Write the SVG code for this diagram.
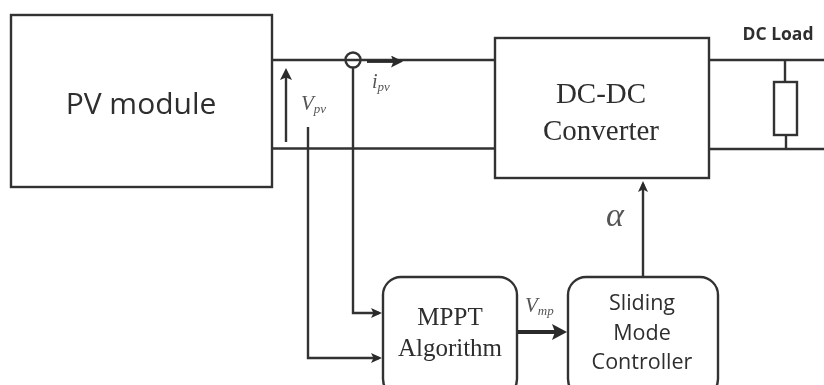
<svg xmlns="http://www.w3.org/2000/svg" width="824" height="385" viewBox="0 0 824 385">
<style>
.b{fill:#fff;stroke:#333;stroke-width:2.400}
.l{fill:none;stroke:#333;stroke-width:2.400}
.s{font-family:"Open Sans","Noto Sans",sans-serif;fill:#2e2e2e}
.t{font-family:"Liberation Serif",serif;fill:#2e2e2e}
.m{font-family:"Liberation Serif",serif;font-style:italic;fill:#555}
.sub{font-size:13px}
</style>
<defs>
<marker id="a" markerUnits="userSpaceOnUse" markerWidth="14" markerHeight="14" refX="8" refY="6" orient="auto"><path d="M0 1L11 6L0 11L2.500 6Z" fill="#2a2a2a"/></marker>
<marker id="c" markerUnits="userSpaceOnUse" markerWidth="16" markerHeight="16" refX="8" refY="6" orient="auto"><path d="M0 0L12 6L0 12L2.500 6Z" fill="#2a2a2a"/></marker>
<marker id="d" markerUnits="userSpaceOnUse" markerWidth="18" markerHeight="18" refX="9" refY="8" orient="auto"><path d="M0 0L15 8L0 16L3 8Z" fill="#2a2a2a"/></marker>
<filter id="soft" filterUnits="userSpaceOnUse" x="0" y="0" width="824" height="385"><feGaussianBlur stdDeviation="0.7"/></filter>
</defs>
<rect width="824" height="385" fill="#fff"/>
<g filter="url(#soft)">
<rect width="824" height="385" fill="#fff"/>
<g id="connectors">
<path class="l" d="M272 60H495M272 148.500H495M709 60H824M709 149H824"/>
<path class="l" d="M785 60V82M786 135V149"/>
<path class="l" d="M286 142V72" marker-end="url(#c)"/>
<path d="M367 61.500H399" fill="none" stroke="#2a2a2a" stroke-width="2.800" marker-end="url(#c)"/>
<path class="l" d="M353 68V313H379" marker-end="url(#a)"/>
<path class="l" d="M308 127V358H379" marker-end="url(#a)"/>
<path d="M517 332H561" fill="none" stroke="#2a2a2a" stroke-width="4" marker-end="url(#d)"/>
<path class="l" d="M643 277V184" marker-end="url(#a)"/>
<circle cx="353" cy="60" r="7.500" fill="none" stroke="#333" stroke-width="2.400"/>
</g>
<g id="pv-module"><rect class="b" x="11" y="15" width="261" height="172"/><text class="s" x="141" y="114" font-size="30" text-anchor="middle">PV module</text></g>
<g id="dc-dc-converter"><rect class="b" x="495" y="38" width="214" height="140"/><text class="t" x="601" y="103" font-size="29" text-anchor="middle">DC-DC</text><text class="t" x="601" y="140" font-size="29" text-anchor="middle">Converter</text></g>
<g id="dc-load"><rect class="b" x="774" y="82" width="23" height="53"/><text class="s" x="778" y="40" font-size="17.500" font-weight="700" text-anchor="middle">DC Load</text></g>
<g id="mppt"><rect class="b" x="383" y="277" width="134" height="120" rx="18"/><text class="t" x="450" y="325" font-size="25" text-anchor="middle">MPPT</text><text class="t" x="450" y="356" font-size="25" text-anchor="middle">Algorithm</text></g>
<g id="smc"><rect class="b" x="568" y="277" width="150" height="120" rx="18"/><text class="s" x="642" y="310" font-size="21.500" text-anchor="middle">Sliding</text><text class="s" x="642" y="340" font-size="21.500" text-anchor="middle">Mode</text><text class="s" x="642" y="369" font-size="21.500" text-anchor="middle">Controller</text></g>
<g id="labels">
<text class="m" x="301" y="110" font-size="21">V<tspan class="sub" dy="3">pv</tspan></text>
<text class="m" x="372" y="88" font-size="20">i<tspan class="sub" dy="3">pv</tspan></text>
<text class="m" x="525" y="312" font-size="21">V<tspan class="sub" dy="3">mp</tspan></text>
<text class="m" x="606" y="226" font-size="34">α</text>
</g>
</g>
</svg>
